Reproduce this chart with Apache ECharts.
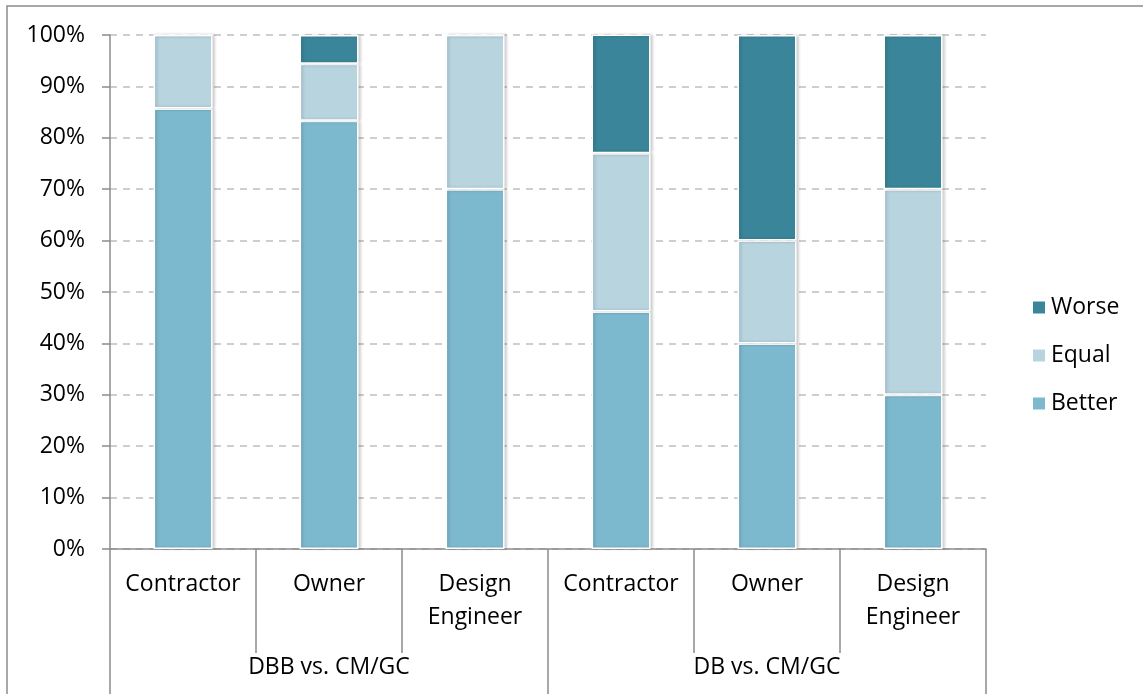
<!DOCTYPE html>
<html>
<head>
<meta charset="utf-8">
<script src="https://cdn.jsdelivr.net/npm/echarts@6/dist/echarts.min.js"></script>
<style>
  html, body { margin: 0; padding: 0; background: #fff; }
  #chart { width: 1143px; height: 694px; }
</style>
</head>
<body>
<div id="chart"></div>
<script>
// categories (inner level and outer group level)
var roles = ['Contractor', 'Owner', 'Design\nEngineer', 'Contractor', 'Owner', 'Design\nEngineer']
var groups = ['DBB vs. CM/GC', 'DB vs. CM/GC']

// stacked shares, in percent
var better = [85.7, 83.3, 70, 46.2, 40, 30]
var equal = [14.3, 11.1, 30, 30.8, 20, 40]
var worse = [0, 5.6, 0, 23.1, 40, 30]

var font = 'Open Sans'
var fs = 23
var barStyle = function (color) {
  return {
    color: color,
    borderColor: '#fff',
    borderWidth: 1.5,
    shadowColor: 'rgba(0,0,0,0.18)',
    shadowBlur: 3,
    shadowOffsetX: 2
  }
}

var myChart = echarts.init(document.getElementById('chart'))
myChart.setOption({
  animation: false,
  textStyle: { fontFamily: font },
  graphic: [{
    type: 'rect',
    shape: { x: 7, y: 6, width: 1150, height: 700 },
    style: { fill: 'none', stroke: '#8c8c8c', lineWidth: 1.5 },
    silent: true
  }],
  grid: { left: 110, right: 157, top: 35, bottom: 145 },
  legend: {
    orient: 'vertical',
    left: 1026,
    top: 291,
    itemWidth: 14,
    itemHeight: 14,
    itemGap: 25,
    icon: 'rect',
    data: ['Worse', 'Equal', 'Better'],
    textStyle: { fontSize: fs, color: '#000', fontFamily: font }
  },
  xAxis: [
    {
      type: 'category',
      data: roles,
      position: 'bottom',
      axisLine: { lineStyle: { color: '#8c8c8c', width: 1.5 } },
      axisTick: { show: true, interval: 0, length: 104, lineStyle: { color: '#8c8c8c', width: 1.5 } },
      axisLabel: { interval: 0, margin: 19, fontSize: fs, color: '#000', lineHeight: 33 }
    },
    {
      type: 'category',
      data: groups,
      position: 'bottom',
      axisLine: { show: false },
      axisTick: { show: true, interval: 0, length: 150, lineStyle: { color: '#8c8c8c', width: 1.5 } },
      axisLabel: { interval: 0, margin: 107, fontSize: fs, color: '#000' }
    }
  ],
  yAxis: {
    type: 'value',
    min: 0,
    max: 100,
    interval: 10,
    axisLine: { show: true, lineStyle: { color: '#8c8c8c', width: 1.5 } },
    axisTick: { show: true, length: 8, lineStyle: { color: '#8c8c8c', width: 1.5 } },
    axisLabel: { formatter: '{value}%', fontSize: fs, color: '#000', margin: 25 },
    splitLine: { lineStyle: { color: '#bfbfbf', type: [7, 6], width: 1.5 } }
  },
  series: [
    { name: 'Better', type: 'bar', stack: 'total', barWidth: 59, data: better, itemStyle: barStyle('#7db9ce') },
    { name: 'Equal', type: 'bar', stack: 'total', barWidth: 59, data: equal, itemStyle: barStyle('#b7d4df') },
    { name: 'Worse', type: 'bar', stack: 'total', barWidth: 59, data: worse, itemStyle: barStyle('#3a8599') }
  ]
})
</script>
</body>
</html>
